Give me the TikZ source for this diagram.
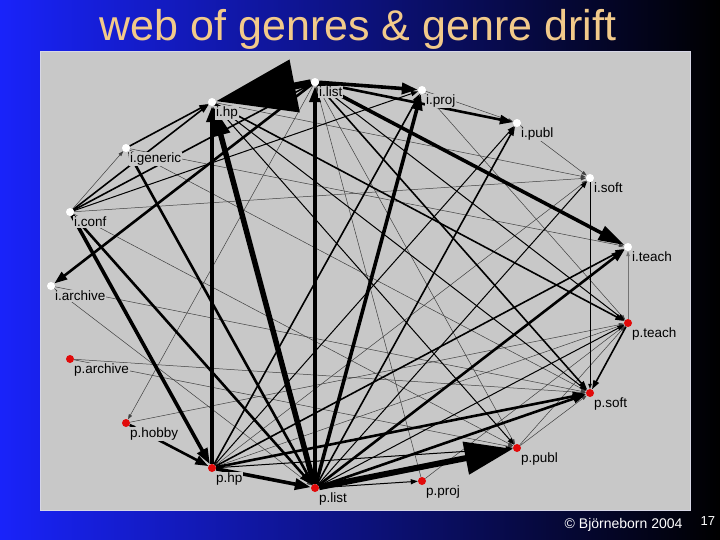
\documentclass[tikz,border=0pt]{standalone}
\usepackage{fontspec}
\setmainfont{Liberation Sans}
\usetikzlibrary{arrows.meta}
\definecolor{panelgray}{RGB}{200,200,200}
\definecolor{titletan}{RGB}{242,202,138}
\definecolor{dotred}{RGB}{225,10,10}
\tikzset{
	spot/.style={circle, inner sep=0pt, minimum size=8pt},
	idot/.style={spot, fill=white},
	pdot/.style={spot, fill=dotred},
	lbl/.style={anchor=base west, inner sep=1pt, fill=panelgray, font=\fontsize{13.5}{15}\selectfont},
	e1/.style={line width=0.5pt, color=black!75, -{Triangle[length=5pt,width=3.5pt]}},
	e2/.style={line width=1pt, -{Triangle[length=7pt,width=5pt]}},
	e3/.style={line width=1.6pt, -{Triangle[length=9pt,width=6pt]}},
	e4/.style={line width=2.6pt, -{Triangle[length=13pt,width=9pt]}},
	e5/.style={line width=3.6pt, -{Triangle[length=16pt,width=11pt]}}
}

\begin{document}
\begin{tikzpicture}[x=1pt, y=-1pt]
			%%%%% START %%%%%
			
			\shade[left color={rgb,255:red,25;green,35;blue,250}, middle color={rgb,255:red,12;green,22;blue,180}, right color=black] (0, 0) rectangle (720, 540);
			\draw[fill=panelgray, draw={rgb,255:red,215;green,215;blue,230}, line width=1pt] (40, 52) rectangle (690, 510);
			
			\node[anchor=base, text=titletan, font=\fontsize{43}{46}\selectfont] (title) at (358, 41) {web of genres \& genre drift};
			
			% genre nodes
			\node[spot] (ihp) at (212, 102) {};
			\node[spot] (ilist) at (315, 82) {};
			\node[spot] (iproj) at (422, 90) {};
			\node[spot] (ipubl) at (517, 123) {};
			\node[spot] (isoft) at (590, 178) {};
			\node[spot] (iteach) at (628, 247) {};
			\node[spot] (igeneric) at (126, 148) {};
			\node[spot] (iconf) at (70, 212) {};
			\node[spot] (iarchive) at (51, 286) {};
			\node[spot] (parchive) at (70, 359) {};
			\node[spot] (phobby) at (126, 423) {};
			\node[spot] (php) at (212, 468) {};
			\node[spot] (plist) at (315, 488) {};
			\node[spot] (pproj) at (422, 481) {};
			\node[spot] (ppubl) at (517, 448) {};
			\node[spot] (psoft) at (590, 393) {};
			\node[spot] (pteach) at (628, 323) {};
			
			% thin links
			\draw[e1] (iproj) -- (ipubl);
			\draw[e1] (ipubl) -- (isoft);
			\draw[e1] (iproj) -- (pteach);
			\draw[e1] (iconf) -- (isoft);
			\draw[e1] (iconf) -- (ppubl);
			\draw[e1] (iconf) -- (igeneric);
			\draw[e1] (iarchive) -- (plist);
			\draw[e1] (iarchive) -- (psoft);
			\draw[e1] (parchive) -- (psoft);
			\draw[e1] (parchive) -- (ppubl);
			\draw[e1] (ilist) -- (phobby);
			\draw[e1] (php) -- (phobby);
			\draw[e1] (phobby) -- (pteach);
			\draw[e1] (ppubl) -- (psoft);
			\draw[e1] (ppubl) -- (pteach);
			\draw[e1] (pproj) -- (pteach);
			\draw[e1] (pproj) -- (ilist);
			\draw[e1] (igeneric) -- (iteach);
			\draw[e1] (igeneric) -- (psoft);
			\draw[e1] (ihp) -- (isoft);
			\draw[e1] (php) -- (isoft);
			\draw[e1] (php) -- (pteach);
			\draw[e1] (ilist) -- (ppubl);
			\draw[e1, color=black!55] (pteach) -- (iteach);
			\draw[e1, color=black] (isoft) -- (psoft);
			
			% medium links
			\draw[e2] (ihp) -- (psoft);
			\draw[e2] (ihp) -- (ppubl);
			\draw[e2] (ilist) -- (pteach);
			\draw[e2] (php) -- (ipubl);
			\draw[e2] (php) -- (ppubl);
			\draw[e2] (plist) -- (isoft);
			\draw[e2] (plist) -- (pproj);
			\draw[e2] (plist) -- (pteach);
			\draw[e2] (iconf) -- (iproj);
			\draw[e3] (igeneric) -- (ihp);
			\draw[e3] (iconf) -- (ihp);
			\draw[e3] (iconf) -- (ilist);
			\draw[e3] (ihp) -- (pteach);
			\draw[e3] (ilist) -- (psoft);
			\draw[e3] (php) -- (iproj);
			\draw[e3] (php) -- (iteach);
			\draw[e3] (plist) -- (ipubl);
			\draw[e3] (pteach) -- (psoft);
			
			% heavy links
			\draw[e4] (ilist) -- (iarchive);
			\draw[e4] (ilist) -- (ipubl);
			\draw[e4] (plist) -- (psoft);
			\draw[e4] (phobby) -- (php);
			\draw[e5] (iconf) -- (php);
			\draw[e4] (iconf) -- (plist);
			\draw[e4] (plist) -- (igeneric);
			\draw[e4] (plist) -- (iteach);
			\draw[e4] (php) -- (psoft);
			\draw[e5] (ilist) -- (iproj);
			\draw[e5] (plist) -- (iproj);
			\draw[e5] (plist) -- (ilist);
			\draw[e5] (php) -- (ihp);
			\draw[e5] (php) -- (plist);
			\draw[line width=3.6pt, -{Triangle[length=26pt,width=15pt]}] (ilist) -- (iteach);
			\draw[line width=5.5pt, -{Triangle[length=30pt,width=18pt]}] (plist) -- (ihp);
			\draw[line width=6pt, -{Triangle[length=48pt,width=32pt]}] (plist) -- (ppubl);
			\draw[line width=7pt, -{Triangle[length=80pt,width=52pt]}] (ilist) -- (ihp);
			
			% dots on top
			\foreach \n in {ihp,ilist,iproj,ipubl,isoft,iteach,igeneric,iconf,iarchive}
				\node[idot] at (\n) {};
			\foreach \n in {parchive,phobby,php,plist,pproj,ppubl,psoft,pteach}
				\node[pdot] at (\n) {};
			
			% labels
			\node[lbl] (ihp-l) at ([xshift=3pt,yshift=-14.5pt]ihp.center) {i.hp};
			\node[lbl] (ilist-l) at ([xshift=3pt,yshift=-14.5pt]ilist.center) {i.list};
			\node[lbl] (iproj-l) at ([xshift=3pt,yshift=-14.5pt]iproj.center) {i.proj};
			\node[lbl] (ipubl-l) at ([xshift=3pt,yshift=-14.5pt]ipubl.center) {i.publ};
			\node[lbl] (isoft-l) at ([xshift=3pt,yshift=-14.5pt]isoft.center) {i.soft};
			\node[lbl] (iteach-l) at ([xshift=3pt,yshift=-14.5pt]iteach.center) {i.teach};
			\node[lbl] (igeneric-l) at ([xshift=3pt,yshift=-14.5pt]igeneric.center) {i.generic};
			\node[lbl] (iconf-l) at ([xshift=3pt,yshift=-14.5pt]iconf.center) {i.conf};
			\node[lbl] (iarchive-l) at ([xshift=3pt,yshift=-14.5pt]iarchive.center) {i.archive};
			\node[lbl] (parchive-l) at ([xshift=3pt,yshift=-14.5pt]parchive.center) {p.archive};
			\node[lbl] (phobby-l) at ([xshift=3pt,yshift=-14.5pt]phobby.center) {p.hobby};
			\node[lbl] (php-l) at ([xshift=3pt,yshift=-14.5pt]php.center) {p.hp};
			\node[lbl] (plist-l) at ([xshift=3pt,yshift=-14.5pt]plist.center) {p.list};
			\node[lbl] (pproj-l) at ([xshift=3pt,yshift=-14.5pt]pproj.center) {p.proj};
			\node[lbl] (ppubl-l) at ([xshift=3pt,yshift=-14.5pt]ppubl.center) {p.publ};
			\node[lbl] (psoft-l) at ([xshift=3pt,yshift=-14.5pt]psoft.center) {p.soft};
			\node[lbl] (pteach-l) at ([xshift=3pt,yshift=-14.5pt]pteach.center) {p.teach};
			
			% footer
			\node[anchor=base east, text=white, font=\fontsize{14}{16}\selectfont] (credit) at (686, 528) {© Björneborn 2004};
			\node[anchor=base west, text=white, font=\fontsize{13}{15}\selectfont] (pageno) at (697, 525) {17};
			
			%%%%% END %%%%%
\end{tikzpicture}
\end{document}
